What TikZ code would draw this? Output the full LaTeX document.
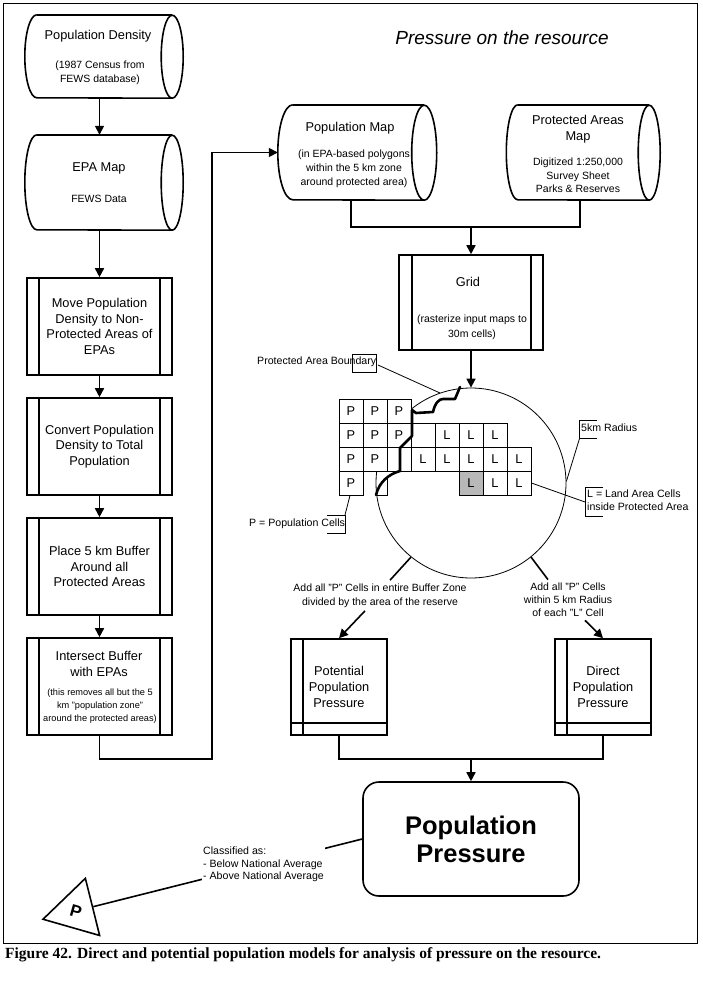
\documentclass[tikz,border=0pt]{standalone}
\usepackage{fontspec}
\setmainfont{Liberation Sans}
\newfontfamily\capfont{Liberation Serif}
\usetikzlibrary{arrows.meta,calc,shapes.geometric}
\newcommand\fA{\fontsize{12.8}{15.6}\selectfont}
\newcommand\fB{\fontsize{10.5}{13.8}\selectfont}
\newcommand\fC{\fontsize{9.2}{13}\selectfont}
\newcommand\fD{\fontsize{10.6}{12.6}\selectfont}
\newcommand\cylout[4]{%
  \draw[thk,line join=round] (#1.north west) arc[start angle=90,end angle=270,x radius=#2pt,y radius=#4pt] -- (#1.south east) arc[start angle=-90,end angle=270,x radius=#3pt,y radius=#4pt];
  \draw[thk] (#1.north west) -- (#1.north east);}
\begin{document}
\begin{tikzpicture}[x=1pt,y=-1pt,
  thk/.style={line width=1.6pt},
  arr/.style={line width=1.6pt,-{Triangle[length=9pt,width=9pt]}},
  thinln/.style={line width=0.8pt},
  cylbox/.style={inner sep=0pt},
  procbox/.style={draw,line width=1.6pt,inner sep=0pt,minimum width=145pt,minimum height=97pt,
    align=center,font=\fA,
    path picture={\draw[line width=1.6pt]
      ([xshift=12pt]path picture bounding box.north west) -- ([xshift=12pt]path picture bounding box.south west)
      ([xshift=-12pt]path picture bounding box.north east) -- ([xshift=-12pt]path picture bounding box.south east);}},
  storebox/.style={draw,line width=1.6pt,inner sep=0pt,minimum width=96pt,minimum height=96pt,
    align=center,font=\fA,
    path picture={\draw[line width=1.6pt]
      ([xshift=12pt]path picture bounding box.north west) -- ([xshift=12pt]path picture bounding box.south west)
      ([yshift=12pt]path picture bounding box.south west) -- ([yshift=12pt]path picture bounding box.south east);}},
  cell/.style={draw,line width=0.8pt,fill=white,minimum size=24pt,inner sep=0pt,font=\fA},
  note/.style={font=\fD,inner sep=0pt,anchor=west,align=left}
]
\useasboundingbox (0,0) rectangle (702,984);
\draw[line width=1pt] (3,4) rectangle (697,943);

\node[font=\itshape\fontsize{19}{22}\selectfont] (title) at (502,38) {Pressure on the resource};

% ---- left column ----
\node[cylbox,minimum width=135pt,minimum height=83pt] (pd) at (104.5,56.5) {};
\cylout{pd}{12}{11}{41.5}
\node[font=\fA] (pd1) at (98,36) {Population Density};
\node[font=\fB,align=center] (pd2) at (100,73) {(1987 Census from\\FEWS database)};

\node[cylbox,minimum width=135pt,minimum height=95pt] (epa) at (104.5,182.5) {};
\cylout{epa}{12}{11}{47.5}
\node[font=\fA] (epa1) at (99,168) {EPA Map};
\node[font=\fB] (epa2) at (99,199) {FEWS Data};

\node[procbox] (mv) at (99.5,326.5) {Move Population\\Density to Non-\\Protected Areas of\\EPAs};
\node[procbox] (cv) at (99.5,446.5) {Convert Population\\Density to Total\\Population};
\node[procbox] (pl) at (99.5,566.5) {Place 5 km Buffer\\Around all\\Protected Areas};
\node[procbox] (is) at (99.5,686.5) {};
\node[font=\fontsize{12.8}{16}\selectfont,align=center] (is1) at (99,664) {Intersect Buffer\\with EPAs};
\node[font=\fC,align=center] (is2) at (100,706) {(this removes all but the 5\\km "population zone"\\around the protected areas)};

\draw[arr] (pd.south -| mv.north) -- (epa.north -| mv.north);
\draw[arr] (epa.south -| mv.north) -- (mv.north);
\draw[arr] (mv.south) -- (cv.north);
\draw[arr] (cv.south) -- (pl.north);
\draw[arr] (pl.south) -- (is.north);

% ---- maps ----
\node[cylbox,minimum width=131pt,minimum height=95pt] (pmap) at (358.5,152.5) {};
\cylout{pmap}{15}{12.5}{47.5}
\node[font=\fA] (pmap1) at (350,128) {Population Map};
\node[font=\fB,align=center] (pmap2) at (354,169) {(in EPA-based polygons\\within the 5 km zone\\around protected area)};

\node[cylbox,minimum width=131pt,minimum height=95pt] (pam) at (583.5,152.5) {};
\cylout{pam}{11.5}{11}{47.5}
\node[font=\fA,align=center] (pam1) at (578,129) {Protected Areas\\Map};
\node[font=\fontsize{10.5}{13.5}\selectfont,align=center] (pam2) at (578,175.5) {Digitized 1:250,000\\Survey Sheet\\Parks \& Reserves};

\draw[arr] (is.south) -- ++(0,23) -| ($(pmap.west)+(-81,0)$) -- ([xshift=-15pt]pmap.west);

\node[draw,line width=1.6pt,inner sep=0pt,minimum width=144pt,minimum height=95pt,
    path picture={\draw[line width=1.6pt]
      ([xshift=13pt]path picture bounding box.north west) -- ([xshift=13pt]path picture bounding box.south west)
      ([xshift=-12pt]path picture bounding box.north east) -- ([xshift=-12pt]path picture bounding box.south east);}]
  (grid) at (471,302.5) {};
\node[font=\fA] (grid1) at (468,282) {Grid};
\node[font=\fontsize{10.5}{15}\selectfont,align=center] (grid2) at (472,327.5) {(rasterize input maps to\\30m cells)};

\coordinate (jm) at (351,227);
\draw[thk] ([xshift=-7.5pt]pmap.south) |- (jm) -| ([xshift=-3.5pt]pam.south);
\draw[arr] (grid.north |- jm) -- (grid.north);

% ---- grid illustration ----
\node[circle,draw,line width=0.8pt,minimum size=190pt,inner sep=0pt] (circ) at (471,483) {};
\draw[arr] (grid.south) -- (circ.north);

\foreach \c/\r/\t in {1/1/P,2/1/P,3/1/P,1/2/P,2/2/P,3/2/P,4/2/{},5/2/L,6/2/L,7/2/L,1/3/P,2/3/P,3/3/{},4/3/L,5/3/L,6/3/L,7/3/L,8/3/L,1/4/P,7/4/L,8/4/L}
  \node[cell] (c\c\r) at ({351+24*(\c-1)},{411+24*(\r-1)}) {\t};
\node[cell,fill=black!28] (c64) at (471,483) {L};
\draw[line width=0.8pt] (387,478) -- (387,495) -- (377,495);

\draw[line width=2.6pt,line join=round,line cap=round]
  (376,495) .. controls (379,482) and (389,474) .. (400,471) -- (400,448) -- (412,436) -- (412,410)
  -- (416,413) -- (433,412) .. controls (435,403) and (439,399) .. (443,399) -- (455,399) -- (460,387);

% callouts
\node[note] (pab) at (257,362) {Protected Area Boundary};
\draw[thinln] (352,354) rectangle (376,372);
\coordinate (pabl) at (378,365);
\coordinate (pabe) at (440,393);
\draw[thinln] (pabl) -- (pabe);

\node[note] (rad) at (581,428) {5km Radius};
\draw[thinln] (597,420) -- (579.5,420) -- (579.5,438.5) -- (597,438.5);
\draw[thinln] (579.5,438.5) -- (circ.1);

\node[note] (lac) at (587,500.5) {L = Land Area Cells\\inside Protected Area};
\draw[thinln] (603,487) -- (585,487) -- (585,516) -- (603,516);
\draw[thinln] (c84.east) -- (585,502);

\node[note] (pcl) at (249,524) {P = Population Cells};
\coordinate (pb) at (345,515);
\draw[thinln] (327,515) -- (pb) -- (345,533.5) -- (327,533.5);
\draw[thinln] (pb) -- ([xshift=-1pt]c14.south);

% ---- pressure outputs ----
\node[font=\fB,align=center] (t1) at (380,595.5) {Add all "P" Cells in entire Buffer Zone\\divided by the area of the reserve};
\node[font=\fontsize{10.5}{13}\selectfont,align=center] (t2) at (568,600) {Add all "P" Cells\\within 5 km Radius\\of each "L" Cell};

\node[storebox] (pot) at (339,687) {Potential\\Population\\Pressure};
\node[storebox] (dir) at (603,687) {Direct\\Population\\Pressure};

\draw[thk] (circ.231.8) -- ([xshift=10pt]t1.north);
\draw[arr] ([xshift=-15pt]t1.south) -- (pot.north);
\draw[thk] (circ.-51.9) -- ([xshift=-20pt]t2.north);
\draw[arr] ([xshift=17pt]t2.south) -- (dir.north);

\node[draw,line width=1.6pt,rounded corners=16pt,minimum width=216pt,minimum height=114pt,inner sep=0pt,
  align=center,font=\bfseries\fontsize{25.5}{28}\selectfont] (pp) at (471,839) {Population\\Pressure};
\coordinate (jb) at (471,759);
\draw[thk] (pot.south) |- (jb) -| (dir.south);
\draw[arr] (jb) -- (pp.north);

\node[regular polygon,regular polygon sides=3,draw,line width=1.6pt,minimum size=68pt,inner sep=0pt,
  rotate=-16,font=\bfseries\fontsize{17}{17}\selectfont] (tri) at (76,911) {P};
\draw[thk] (tri) -- (pp.west);
\node[note,fill=white,inner sep=1pt] (cls) at (202,864.5) {Classified as:\\- Below National Average\\- Above National Average};

\node[anchor=west,inner sep=0pt,font=\capfont\bfseries\fontsize{15.5}{18}\selectfont] (cap) at (5,955)
  {Figure 42. Direct and potential population models for analysis of pressure on the resource.};
\end{tikzpicture}
\end{document}
